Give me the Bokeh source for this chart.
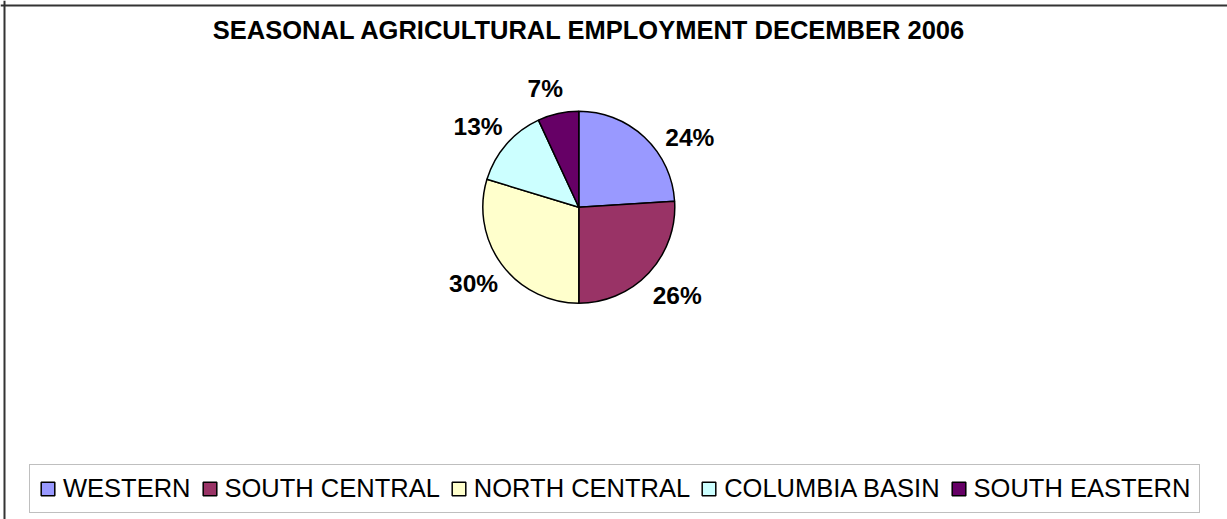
import math
from bokeh.plotting import figure
from bokeh.models import (ColumnDataSource, Range1d, Legend, LegendItem, Label, Span)
from bokeh.core.properties import value
from bokeh.embed import file_html
from bokeh.resources import INLINE

# ---- data ----
regions = ["WESTERN", "SOUTH CENTRAL", "NORTH CENTRAL", "COLUMBIA BASIN", "SOUTH EASTERN"]
shares = [24.0, 26.0, 29.7, 13.4, 6.9]
colors = ["#9999FF", "#993366", "#FFFFCC", "#CCFFFF", "#660066"]
title_text = "SEASONAL AGRICULTURAL EMPLOYMENT  DECEMBER 2006"

# ---- layout (page pixel frame; data y = PAGE_H - page y) ----
W, H = 1227, 519
PAGE_H = H
cx, cy = 578.3, PAGE_H - 206.7
R = 96
label_r = [131, 132, 130, 129, 123]
label_nudge_deg = [14.7, -1.4, 0.6, -2.4, -3.4]

total = sum(shares)
starts, ends, mids = [], [], []
cum = 0.0
for s in shares:
    f0 = cum / total
    cum += s
    f1 = cum / total
    # clockwise from 12 o'clock
    starts.append(math.pi / 2 - 2 * math.pi * f1)
    ends.append(math.pi / 2 - 2 * math.pi * f0)
    mids.append((f0 + f1) / 2 * 360.0)

lx, ly, ltxt = [], [], []
for i, s in enumerate(shares):
    th = math.radians(mids[i] + label_nudge_deg[i])
    lx.append(cx + label_r[i] * math.sin(th))
    ly.append(cy + label_r[i] * math.cos(th))
    ltxt.append(f"{int(s / total * 100 + 0.5)}%")

src = ColumnDataSource(dict(region=regions, start=starts, end=ends, color=colors,
                            x=[cx] * len(shares), y=[cy] * len(shares)))
lsrc = ColumnDataSource(dict(x=lx, y=ly, text=ltxt))

p = figure(width=W, height=H, x_range=Range1d(0, W), y_range=Range1d(0, H),
           output_backend="svg", toolbar_location=None, x_axis_type=None, y_axis_type=None,
           min_border=0, background_fill_color="white", border_fill_color="white")
p.grid.visible = False
p.outline_line_color = None

# chart area border (top and left visible in reference)
p.add_layout(Span(location=PAGE_H - 5, dimension="width", line_color="#333333", line_width=2))
p.add_layout(Span(location=4, dimension="height", line_color="#333333", line_width=2))

wr = p.wedge(x="x", y="y", radius=R, radius_units="screen", start_angle="start", end_angle="end",
             direction="anticlock", fill_color="color", line_color="black", line_width=1.5, source=src)

p.text(x="x", y="y", text="text", source=lsrc, text_align="center", text_baseline="middle",
       text_font=value("Liberation Sans"), text_font_style="bold", text_font_size="24.5px",
       text_color="black")

p.add_layout(Label(x=592.5, y=PAGE_H - 29.5, text=title_text, text_align="center",
                   text_baseline="middle", text_font="Liberation Sans", text_font_style="bold",
                   text_font_size="25.5px", text_color="black"))

items = [LegendItem(label=regions[i], renderers=[wr], index=i) for i in range(len(regions))]
legend = Legend(items=items, orientation="horizontal", location=(29, 6),
                glyph_width=17, glyph_height=17, label_standoff=7, spacing=10, padding=9,
                margin=0, label_text_font="Liberation Sans", label_text_font_size="25.5px",
                label_text_color="black", border_line_color="#808080", border_line_width=1,
                background_fill_color="white", background_fill_alpha=1.0)
p.add_layout(legend, "center")

open("out.html", "w").write(file_html(p, INLINE))
